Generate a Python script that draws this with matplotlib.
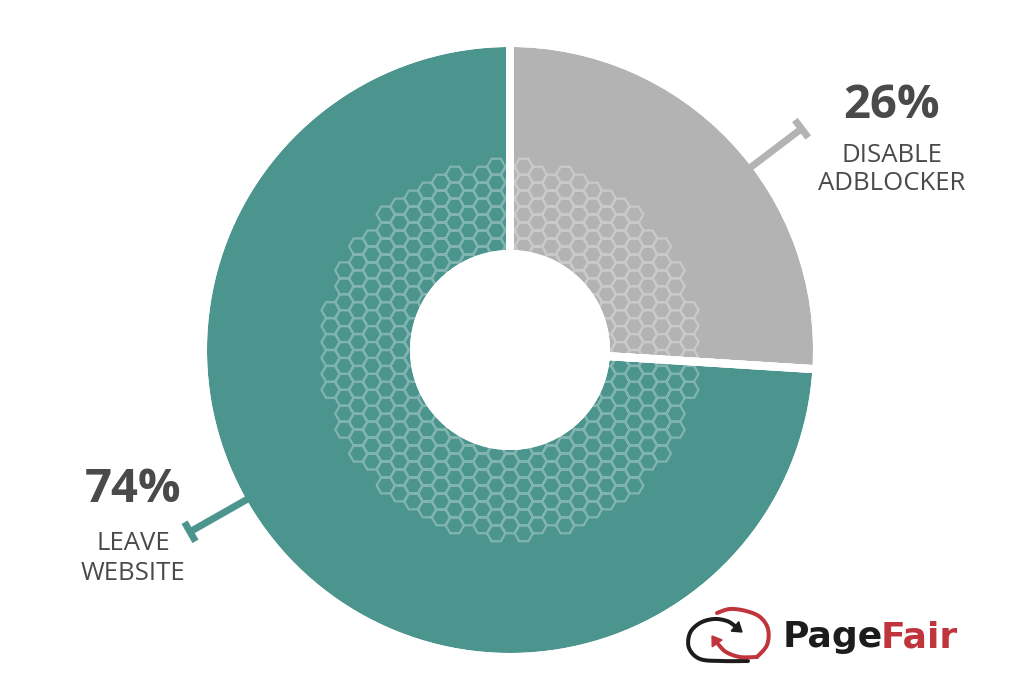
import numpy as np
import matplotlib
matplotlib.use('Agg')
import matplotlib.pyplot as plt
from matplotlib.path import Path
from matplotlib.patches import PathPatch, Polygon, Wedge

# ---- data ----
categories = ['DISABLE\nADBLOCKER', 'LEAVE\nWEBSITE']
values = [26, 74]
pct_labels = ['26%', '74%']
colors = ['#b3b3b3', '#4c958e']

W, H = 1026, 700
fig = plt.figure(figsize=(W / 100, H / 100), dpi=100)
ax = fig.add_axes([0, 0, 1, 1])

def P(x, y):
    """pixel (y-down) -> data (y-up)"""
    return x, H - y

cx, cy = P(510, 350)
R_out, R_in = 303, 100
gap_px = 8
px2pt = 72 / 100

wedges, _ = ax.pie(values, colors=colors, startangle=90, counterclock=False,
                   center=(cx, cy), radius=R_out + gap_px / 2,
                   wedgeprops=dict(width=R_out - R_in + gap_px, edgecolor='white',
                                   linewidth=gap_px * px2pt))
ax.set_xlim(0, W)
ax.set_ylim(0, H)
ax.set_aspect('equal')
ax.axis('off')

# ---- honeycomb texture ----
s = 9.2
r_pat = 186
verts, codes = [], []
ang = np.deg2rad(np.arange(0, 360, 60))
hx, hy = s * np.cos(ang), s * np.sin(ang)
ncol = int(2 * 220 / (1.5 * s)) + 2
for c in range(-ncol // 2, ncol // 2 + 1):
    for r in range(-20, 21):
        x = cx + c * 1.5 * s
        y = cy + r * np.sqrt(3) * s + (c % 2) * np.sqrt(3) * s / 2
        if np.hypot(x - cx, y - cy) <= r_pat:
            pts = list(zip(x + hx, y + hy))
            verts += pts + [pts[0]]
            codes += [Path.MOVETO] + [Path.LINETO] * 5 + [Path.CLOSEPOLY]
hp = PathPatch(Path(verts, codes), facecolor='none', edgecolor='white',
               alpha=0.3, linewidth=2.2 * px2pt, zorder=3)
ax.add_patch(hp)
# re-draw separators and hole on top
for w in wedges:
    ww = Wedge(w.center, w.r, w.theta1, w.theta2, width=w.width,
               facecolor='none', edgecolor='white',
               linewidth=gap_px * px2pt, zorder=4)
    ax.add_patch(ww)

# ---- leader lines ----
def leader(angle_deg, r0, r1, color):
    a = np.deg2rad(angle_deg)
    d = np.array([np.cos(a), np.sin(a)])
    n = np.array([-d[1], d[0]])
    p0 = np.array([cx, cy]) + r0 * d
    p1 = np.array([cx, cy]) + r1 * d
    ax.plot([p0[0], p1[0]], [p0[1], p1[1]], color=color, lw=7 * px2pt,
            solid_capstyle='butt', zorder=5)
    q0, q1 = p1 - n * 11, p1 + n * 11
    ax.plot([q0[0], q1[0]], [q0[1], q1[1]], color=color, lw=7 * px2pt,
            solid_capstyle='butt', zorder=5)

leader(37.2, 296, 366, colors[0])
leader(209.6, 296, 368, colors[1])

# ---- labels ----
txt_color = '#4a4a4a'
label_pos = [(892, 105, 156, 184), (133, 490, 543, 574)]
for (x, yp, y1, y2), pct, cat in zip(label_pos, pct_labels, categories):
    ax.text(*P(x, yp), pct, ha='center', va='center', fontsize=34,
            fontweight='bold', family='Open Sans', color=txt_color, zorder=6)
    l1, l2 = cat.split('\n')
    ax.text(*P(x, y1), l1, ha='center', va='center', fontsize=18.5,
            family='Open Sans', color=txt_color, zorder=6)
    ax.text(*P(x, y2), l2, ha='center', va='center', fontsize=18.5,
            family='Open Sans', color=txt_color, zorder=6)

# ---- PageFair logo ----
red = '#c0343c'
blk = '#1c1c1c'
t1 = ax.text(*P(783, 647), 'Page', ha='left', va='baseline', fontsize=26,
             fontweight='bold', family='DejaVu Sans', color=blk, zorder=6)
fig.canvas.draw()
bb = t1.get_window_extent(fig.canvas.get_renderer())
x_fair = ax.transData.inverted().transform((bb.x1, bb.y0))[0]
ax.text(x_fair - 3, H - 647, 'Fair', ha='left', va='baseline', fontsize=26,
        fontweight='bold', family='DejaVu Sans', color=red, zorder=6)

def catmull(pts, n=12):
    pts = np.array(pts, float)
    pts = np.vstack([pts[0], pts, pts[-1]])
    out = []
    for i in range(1, len(pts) - 2):
        p0, p1, p2, p3 = pts[i - 1], pts[i], pts[i + 1], pts[i + 2]
        for t in np.linspace(0, 1, n, endpoint=False):
            out.append(0.5 * ((2 * p1) + (-p0 + p2) * t +
                              (2 * p0 - 5 * p1 + 4 * p2 - p3) * t ** 2 +
                              (-p0 + 3 * p1 - 3 * p2 + p3) * t ** 3))
    out.append(pts[-2])
    return np.array(out)

def stroke(pts, color, head=None):
    c = catmull([P(*p) for p in pts])
    ax.plot(c[:, 0], c[:, 1], color=color, lw=4 * px2pt, solid_capstyle='round', zorder=6)
    if head is not None:
        tip, direc = head
        tip = np.array(P(*tip))
        d = np.array([direc[0], -direc[1]], float)
        d /= np.hypot(*d)
        n = np.array([-d[1], d[0]])
        tri = [tip, tip - 9 * d + 6 * n, tip - 9 * d - 6 * n]
        ax.add_patch(Polygon(tri, closed=True, color=color, zorder=6))

stroke([(748, 661), (722, 661), (700, 659), (689, 648), (690, 633),
        (700, 623), (714, 619), (727, 621), (735, 626)], blk,
       head=((742, 632), (1, 0.8)))
stroke([(757, 657), (767, 645), (768, 629), (760, 617), (746, 611),
        (730, 609), (717, 613)], red)
stroke([(757, 657), (740, 657), (726, 652), (718, 644)], red,
       head=((712, 636), (-0.7, -1)))

fig.savefig('out.png', dpi=100, facecolor='white')
